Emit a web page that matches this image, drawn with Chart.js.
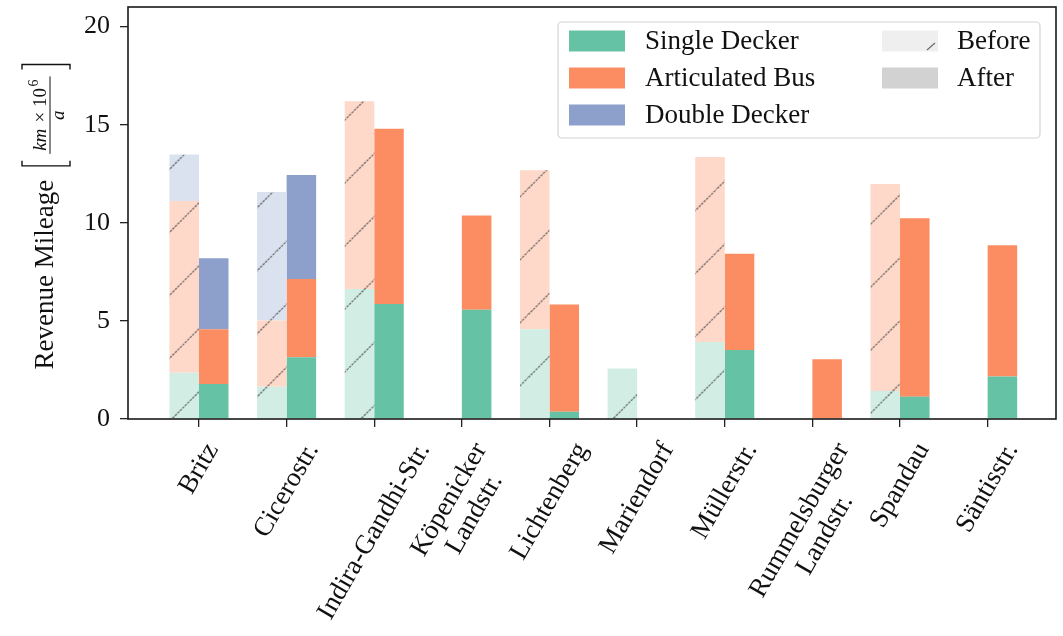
<!DOCTYPE html>
<html>
<head>
<meta charset="utf-8">
<script src="https://cdn.jsdelivr.net/npm/chart.js@4"></script>
<style>
  body { margin: 0; background: #fff; }
  canvas { display: block; }
</style>
</head>
<body>
<canvas id="mileageChart" width="1063" height="636"></canvas>
<script>
// Depots on the x axis (long names split over two lines)
const depots = ["Britz", "Cicerostr.", "Indira-Gandhi-Str.", ["Köpenicker", "Landstr."], "Lichtenberg",
  "Mariendorf", "Müllerstr.", ["Rummelsburger", "Landstr."], "Spandau", "Säntisstr."];
const busTypes = ["Single Decker", "Articulated Bus", "Double Decker"];
const phases = ["Before", "After"];

// Revenue mileage per depot, km x 10^6 per year
const singleBefore      = [2.36, 1.65, 6.62, 0,    4.58, 2.57, 3.92, 0,    1.43,  0];
const articulatedBefore = [8.75, 3.37, 9.58, 0,    8.10, 0,    9.43, 0,    10.55, 0];
const doubleBefore      = [2.37, 6.55, 0,    0,    0,    0,    0,    0,    0,     0];
const singleAfter       = [1.79, 3.15, 5.86, 5.57, 0.37, 0,    3.52, 0,    1.14,  2.16];
const articulatedAfter  = [2.79, 3.98, 8.93, 4.80, 5.47, 0,    4.90, 3.05, 9.09,  6.69];
const doubleAfter       = [3.61, 5.31, 0,    0,    0,    0,    0,    0,    0,     0];

const yTicks = [0, 5, 10, 15, 20];

const FONT = '"Liberation Serif", "DejaVu Serif", serif';
const TEXT_SIZE = 27;
const HATCH = "rgba(70, 70, 70, 0.8)";
const typeColors = ["#66c2a5", "#fc8d62", "#8da0cb"];
const lightColors = ["#d1ede4", "#fed8c9", "#dae1ef"];

// light fill with a "/" hatch, anchored to the canvas
function hatch(fill) {
  const size = 63;
  const tile = document.createElement("canvas");
  tile.width = tile.height = size;
  const t = tile.getContext("2d");
  t.fillStyle = fill;
  t.fillRect(0, 0, size, size);
  t.strokeStyle = HATCH;
  t.lineWidth = 1.2;
  t.setLineDash([2.5, 1]);
  [0, size, 2 * size].forEach(c => {
    t.beginPath();
    t.moveTo(-2, c + 2);
    t.lineTo(c + 2, -2);
    t.stroke();
  });
  const p = document.getElementById("mileageChart").getContext("2d").createPattern(tile, "repeat");
  p.setTransform(new DOMMatrix([1, 0, 0, 1, 23.7, 0]));
  return p;
}

function toPoints(values) {
  return values.map((v, i) => ({ x: i, y: v }));
}

const beforeSeries = [singleBefore, articulatedBefore, doubleBefore];
const afterSeries = [singleAfter, articulatedAfter, doubleAfter];

const datasets = [];
busTypes.forEach((name, k) => {
  datasets.push({
    label: name + " (" + phases[0] + ")",
    stack: "before",
    data: toPoints(beforeSeries[k]),
    backgroundColor: hatch(lightColors[k])
  });
});
busTypes.forEach((name, k) => {
  datasets.push({
    label: name + " (" + phases[1] + ")",
    stack: "after",
    data: toPoints(afterSeries[k]),
    backgroundColor: typeColors[k]
  });
});
datasets.forEach(d => {
  d.categoryPercentage = 0.674;
  d.barPercentage = 1;
  d.borderWidth = 0;
});

// black box round the plot area
const frame = {
  id: "frame",
  afterDatasetsDraw(chart) {
    const { ctx, chartArea: a } = chart;
    ctx.save();
    ctx.strokeStyle = "#1a1a1a";
    ctx.lineWidth = 1.6;
    ctx.strokeRect(a.left, a.top, a.right - a.left, a.bottom - a.top);
    ctx.restore();
  }
};

// rotated depot names, box centred under each tick
const depotLabels = {
  id: "depotLabels",
  afterDraw(chart) {
    const { ctx, scales: { x }, chartArea } = chart;
    const angle = 60 * Math.PI / 180;
    const lineH = 29;
    ctx.save();
    ctx.font = TEXT_SIZE + "px " + FONT;
    ctx.fillStyle = "#111";
    ctx.textAlign = "center";
    ctx.textBaseline = "middle";
    depots.forEach((name, i) => {
      const lines = [].concat(name);
      const w = Math.max(...lines.map(l => ctx.measureText(l).width));
      const h = lines.length * lineH;
      const boxH = w * Math.sin(angle) + h * Math.cos(angle);
      const cx = x.getPixelForValue(i);
      const cy = chartArea.bottom + 19 + boxH / 2;
      ctx.save();
      ctx.translate(cx, cy);
      ctx.rotate(-angle);
      lines.forEach((l, j) => ctx.fillText(l, 0, (j - (lines.length - 1) / 2) * lineH));
      ctx.restore();
    });
    ctx.restore();
  }
};

// y axis title with the unit fraction in brackets
const mileageTitle = {
  id: "mileageTitle",
  afterDraw(chart) {
    const { ctx, chartArea } = chart;
    const base = 53;
    const small = 19;
    ctx.save();
    ctx.fillStyle = "#111";
    ctx.strokeStyle = "#111";
    ctx.font = TEXT_SIZE + "px " + FONT;
    const mainW = ctx.measureText("Revenue Mileage").width;

    ctx.font = "italic " + small + "px " + FONT;
    const kmW = ctx.measureText("km").width;
    ctx.font = small + "px " + FONT;
    const timesW = ctx.measureText(" × 10").width + 3;
    ctx.font = "14px " + FONT;
    const supW = ctx.measureText("6").width;
    const numW = kmW + timesW + supW;
    const fracW = numW + 6;
    const total = mainW + 14 + 12 + fracW + 12;

    const cy = (chartArea.top + chartArea.bottom) / 2 + 4;
    ctx.translate(0, cy);
    ctx.rotate(-Math.PI / 2);
    const a0 = -total / 2;

    ctx.font = TEXT_SIZE + "px " + FONT;
    ctx.textBaseline = "alphabetic";
    ctx.fillText("Revenue Mileage", a0, base);

    // brackets
    const a1 = a0 + mainW + 14;
    const a2 = a1 + 12 + fracW + 12;
    const bTop = base - 31, bBot = base + 17;
    ctx.lineWidth = 1.4;
    ctx.beginPath();
    ctx.moveTo(a1 + 5, bTop); ctx.lineTo(a1, bTop); ctx.lineTo(a1, bBot); ctx.lineTo(a1 + 5, bBot);
    ctx.moveTo(a2 - 5, bTop); ctx.lineTo(a2, bTop); ctx.lineTo(a2, bBot); ctx.lineTo(a2 - 5, bBot);
    ctx.stroke();

    // fraction
    const f0 = a1 + 12;
    let n = f0 + (fracW - numW) / 2;
    ctx.font = "italic " + small + "px " + FONT;
    ctx.fillText("km", n, base - 7);
    n += kmW + 1.5;
    ctx.font = small + "px " + FONT;
    ctx.fillText(" × 10", n, base - 7);
    n += timesW - 1.5;
    ctx.font = "14px " + FONT;
    ctx.fillText("6", n, base - 15);
    ctx.lineWidth = 1;
    ctx.beginPath();
    ctx.moveTo(f0, base - 3);
    ctx.lineTo(f0 + fracW, base - 3);
    ctx.stroke();
    ctx.font = "italic " + small + "px " + FONT;
    ctx.textAlign = "center";
    ctx.fillText("a", f0 + fracW / 2, base + 11);
    ctx.restore();
  }
};

// two-column legend: bus types and before/after
const legendBox = {
  id: "legendBox",
  afterDraw(chart) {
    const { ctx, chartArea } = chart;
    const x0 = chartArea.right - 498, y0 = chartArea.top + 15;
    const w = 482, h = 116;
    ctx.save();
    ctx.fillStyle = "rgba(255,255,255,0.85)";
    ctx.strokeStyle = "#d4d4d4";
    ctx.lineWidth = 1.2;
    ctx.beginPath();
    ctx.roundRect(x0, y0, w, h, 4);
    ctx.fill();
    ctx.stroke();

    const rows = [19, 56, 93];
    ctx.font = TEXT_SIZE + "px " + FONT;
    ctx.textBaseline = "middle";
    busTypes.forEach((name, k) => {
      const cy = y0 + rows[k];
      ctx.fillStyle = typeColors[k];
      ctx.fillRect(x0 + 11, cy - 10.5, 56, 21);
      ctx.fillStyle = "#111";
      ctx.fillText(name, x0 + 87, cy + 1);
    });

    // Before: pale swatch with a hatch stroke in the corner
    let cy = y0 + rows[0];
    ctx.fillStyle = "#efefef";
    ctx.fillRect(x0 + 324, cy - 10.5, 56, 21);
    ctx.strokeStyle = HATCH;
    ctx.lineWidth = 1.1;
    ctx.beginPath();
    ctx.moveTo(x0 + 369, cy + 9);
    ctx.lineTo(x0 + 377, cy + 2);
    ctx.stroke();
    ctx.fillStyle = "#111";
    ctx.fillText(phases[0], x0 + 399, cy + 1);

    cy = y0 + rows[1];
    ctx.fillStyle = "#d2d2d2";
    ctx.fillRect(x0 + 324, cy - 10.5, 56, 21);
    ctx.fillStyle = "#111";
    ctx.fillText(phases[1], x0 + 399, cy + 1);
    ctx.restore();
  }
};

function noScalePadding(scale) {
  scale.paddingTop = 0;
  scale.paddingBottom = 0;
  scale.paddingLeft = 0;
  scale.paddingRight = 0;
}

new Chart(document.getElementById("mileageChart"), {
  type: "bar",
  data: { datasets: datasets },
  options: {
    responsive: false,
    animation: false,
    layout: { padding: { top: 7, right: 7, left: 0, bottom: 0 } },
    plugins: { legend: { display: false }, tooltip: { enabled: false } },
    scales: {
      x: {
        type: "linear",
        offset: false,
        min: -0.81,
        max: 9.78,
        afterBuildTicks: axis => { axis.ticks = depots.map((d, i) => ({ value: i })); },
        afterFit: scale => { scale.height = 217; noScalePadding(scale); },
        ticks: { display: false },
        grid: { offset: false, drawOnChartArea: false, tickLength: 8, color: "#222", lineWidth: 1.3 },
        border: { display: false }
      },
      y: {
        stacked: true,
        min: 0,
        max: 21,
        afterBuildTicks: axis => { axis.ticks = yTicks.map(v => ({ value: v })); },
        afterFit: scale => { scale.width = 128; noScalePadding(scale); },
        ticks: { font: { family: FONT, size: 26 }, color: "#111", padding: 10 },
        grid: { drawOnChartArea: false, tickLength: 8, color: "#222", lineWidth: 1.3 },
        border: { display: false }
      }
    }
  },
  plugins: [frame, depotLabels, mileageTitle, legendBox]
});
</script>
</body>
</html>
